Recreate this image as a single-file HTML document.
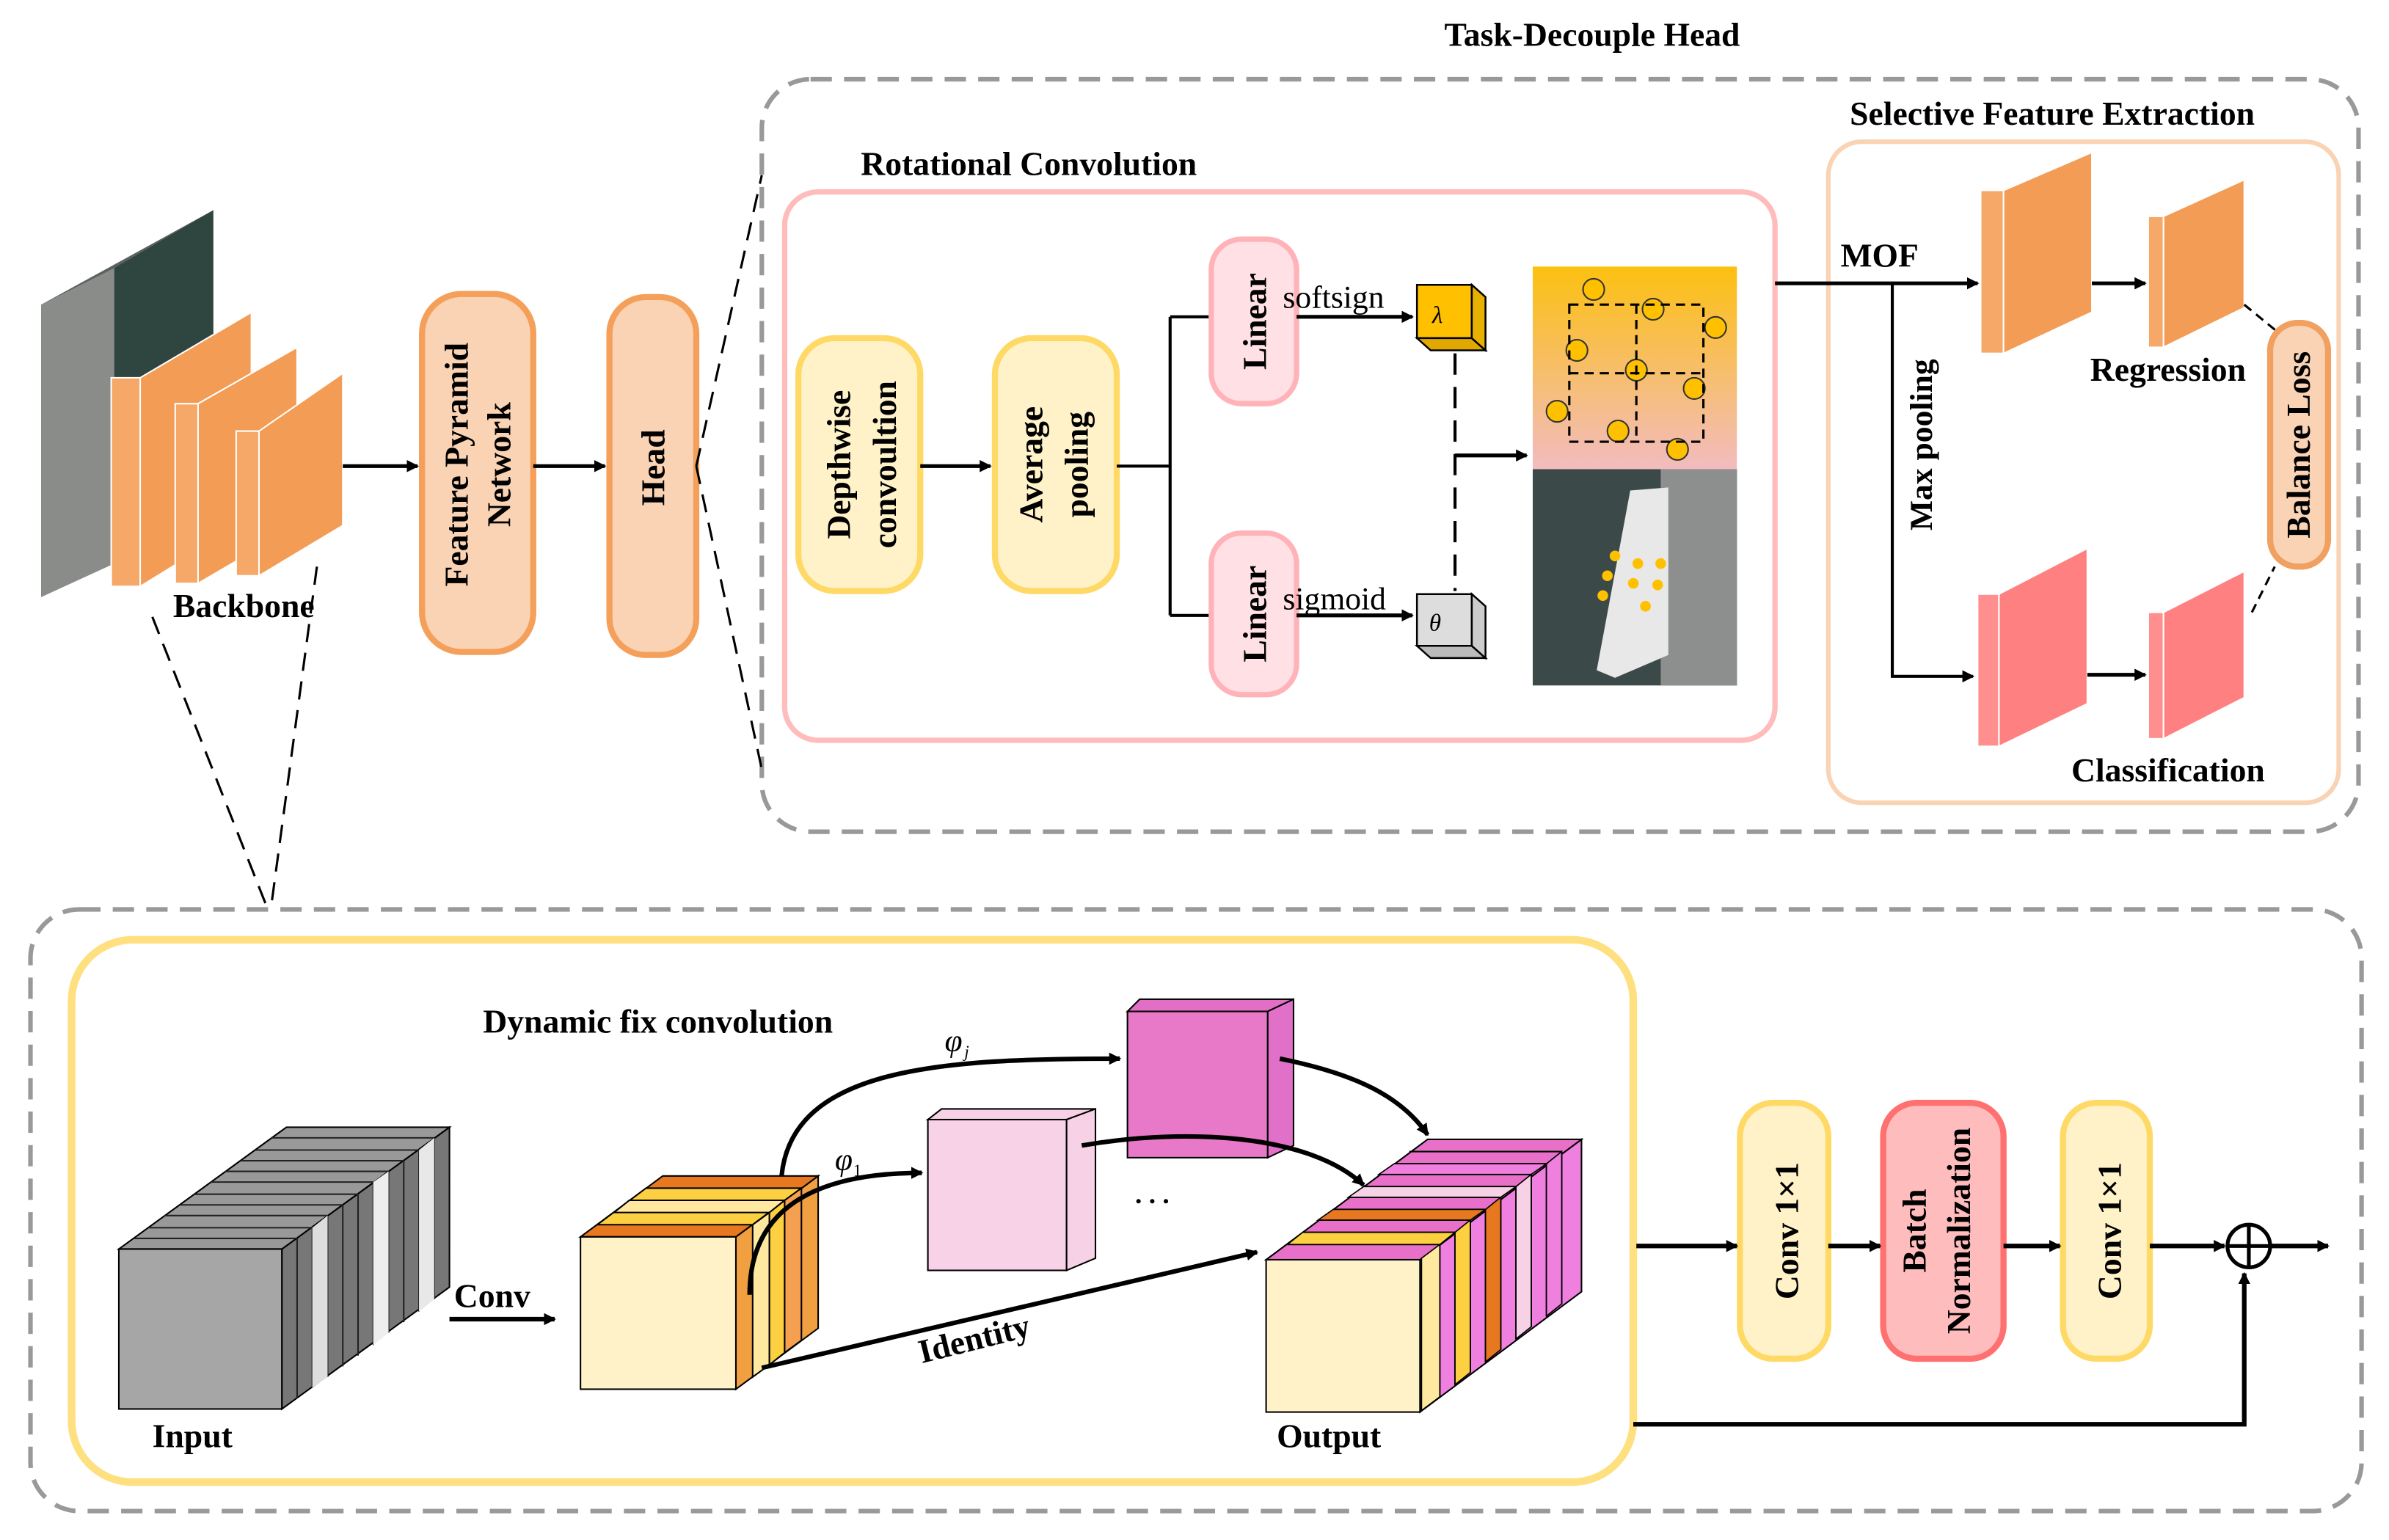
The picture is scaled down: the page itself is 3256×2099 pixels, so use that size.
<!DOCTYPE html>
<html><head><meta charset="utf-8"><style>html,body{margin:0;padding:0;background:#fff}svg{display:block}svg text{font-family:"Liberation Serif",serif;font-weight:bold}</style></head><body>
<svg width="3256" height="2099" viewBox="0 0 1568 1011" preserveAspectRatio="none" xmlns="http://www.w3.org/2000/svg">
<defs>
<marker id="ah" markerWidth="8" markerHeight="8" refX="7" refY="4" orient="auto" markerUnits="userSpaceOnUse"><path d="M0,0 L8,4 L0,8 Z" fill="#000"/></marker>
<linearGradient id="gg" x1="0" y1="0" x2="0" y2="1"><stop offset="0" stop-color="#fcc010"/><stop offset="1" stop-color="#f2bcc0"/></linearGradient>
</defs>
<text x="1045" y="30" font-size="22" text-anchor="middle">Task-Decouple Head</text>
<rect x="500" y="52" width="1048" height="494" rx="32" fill="none" stroke="#999" stroke-width="3" stroke-dasharray="14,8"/>
<text x="1347" y="82" font-size="22" text-anchor="middle">Selective Feature Extraction</text>
<rect x="1200" y="93" width="335" height="434" rx="22" fill="none" stroke="#f9d3b4" stroke-width="3"/>
<text x="565" y="115" font-size="22">Rotational Convolution</text>
<rect x="515" y="126" width="650" height="360" rx="22" fill="none" stroke="#ffbcbc" stroke-width="3.5"/>
<rect x="524" y="222" width="80" height="166" rx="24" fill="#fff2c9" stroke="#ffd966" stroke-width="4"/>
<text transform="translate(558,305) rotate(-90)" font-size="22" text-anchor="middle">Depthwise</text>
<text transform="translate(588,305) rotate(-90)" font-size="22" text-anchor="middle">convoultion</text>
<rect x="653" y="222" width="80" height="166" rx="24" fill="#fff2c9" stroke="#ffd966" stroke-width="4"/>
<text transform="translate(684,305) rotate(-90)" font-size="22" text-anchor="middle">Average</text>
<text transform="translate(714,305) rotate(-90)" font-size="22" text-anchor="middle">pooling</text>
<line x1="604" y1="306" x2="650" y2="306" stroke="#000" stroke-width="2.5" marker-end="url(#ah)"/>
<path d="M733,306 H768 M768,208 V404 M768,208 H795 M768,404 H795" stroke="#000" stroke-width="2" fill="none"/>
<rect x="795" y="157" width="56" height="108" rx="20" fill="#ffe0e4" stroke="#ffb3b8" stroke-width="3.5"/>
<text transform="translate(831,211) rotate(-90)" font-size="22" text-anchor="middle">Linear</text>
<rect x="795" y="350" width="56" height="106" rx="20" fill="#ffe0e4" stroke="#ffb3b8" stroke-width="3.5"/>
<text transform="translate(831,403) rotate(-90)" font-size="22" text-anchor="middle">Linear</text>
<text x="842" y="202" font-size="21" style="font-weight:normal">softsign</text>
<text x="842" y="400" font-size="21" style="font-weight:normal">sigmoid</text>
<line x1="851" y1="208" x2="927" y2="208" stroke="#000" stroke-width="2.5" marker-end="url(#ah)"/>
<line x1="851" y1="404" x2="927" y2="404" stroke="#000" stroke-width="2.5" marker-end="url(#ah)"/>
<g stroke="#000" stroke-width="1.2">
<polygon points="930,187 966,187 966,222 930,222" fill="#ffc000"/><polygon points="930,222 966,222 975,230 939,230" fill="#e0a800"/><polygon points="966,187 975,195 975,230 966,222" fill="#e8b000"/>
<polygon points="930,390 966,390 966,424 930,424" fill="#ddd"/><polygon points="930,424 966,424 975,432 939,432" fill="#bbb"/><polygon points="966,390 975,398 975,432 966,424" fill="#ccc"/>
</g>
<text x="940" y="212" font-size="16" style="font-weight:normal;font-style:italic">λ</text>
<text x="938" y="414" font-size="16" style="font-weight:normal;font-style:italic">θ</text>
<line x1="955" y1="232" x2="955" y2="388" stroke="#000" stroke-width="2" stroke-dasharray="14,8"/>
<line x1="955" y1="299" x2="1002" y2="299" stroke="#000" stroke-width="2.5" marker-end="url(#ah)"/>
<rect x="1006" y="175" width="134" height="133" fill="url(#gg)"/>
<rect x="1006" y="308" width="134" height="142" fill="#3b4a48"/>
<rect x="1090" y="308" width="50" height="142" fill="#8c8f8e"/>
<path d="M1070,322 L1095,320 L1095,430 L1060,445 L1048,440 Z" fill="#e8e8e8"/>
<g fill="#ffc000" stroke="#333"><circle cx="1046" cy="190" r="7"/><circle cx="1085" cy="203" r="7"/><circle cx="1126" cy="215" r="7"/><circle cx="1035" cy="230" r="7"/><circle cx="1074" cy="243" r="7"/><circle cx="1112" cy="255" r="7"/><circle cx="1022" cy="270" r="7"/><circle cx="1062" cy="283" r="7"/><circle cx="1101" cy="295" r="7"/></g>
<path d="M1030,200 H1118 V290 H1030 Z M1030,245 H1118 M1074,200 V290" fill="none" stroke="#000" stroke-dasharray="6,4" stroke-width="1.5"/>
<g fill="#ffc000"><circle cx="1060" cy="365" r="3.5"/><circle cx="1055" cy="378" r="3.5"/><circle cx="1052" cy="391" r="3.5"/><circle cx="1075" cy="370" r="3.5"/><circle cx="1072" cy="383" r="3.5"/><circle cx="1090" cy="370" r="3.5"/><circle cx="1088" cy="384" r="3.5"/><circle cx="1080" cy="398" r="3.5"/></g>
<line x1="1165" y1="186" x2="1298" y2="186" stroke="#000" stroke-width="2.5" marker-end="url(#ah)"/>
<text x="1208" y="175" font-size="22">MOF</text>
<path d="M1242,186 V444 H1295" fill="none" stroke="#000" stroke-width="2" marker-end="url(#ah)"/>
<text transform="translate(1268,292) rotate(-90)" font-size="21" text-anchor="middle">Max pooling</text>
<g stroke="#fff" stroke-width="1">
<polygon points="1300,125 1315,125 1315,232 1300,232" fill="#f5a868"/><polygon points="1315,125 1373,100 1373,205 1315,232" fill="#f39c55"/>
<polygon points="1410,142 1420,142 1420,228 1410,228" fill="#f5a868"/><polygon points="1420,142 1473,118 1473,202 1420,228" fill="#f39c55"/>
<polygon points="1298,390 1312,390 1312,490 1298,490" fill="#ff8f8f"/><polygon points="1312,390 1370,360 1370,462 1312,490" fill="#ff8080"/>
<polygon points="1410,402 1420,402 1420,485 1410,485" fill="#ff8f8f"/><polygon points="1420,402 1473,375 1473,458 1420,485" fill="#ff8080"/>
</g>
<line x1="1373" y1="186" x2="1408" y2="186" stroke="#000" stroke-width="2.5" marker-end="url(#ah)"/>
<line x1="1370" y1="443" x2="1408" y2="443" stroke="#000" stroke-width="2.5" marker-end="url(#ah)"/>
<text x="1423" y="250" font-size="22" text-anchor="middle">Regression</text>
<text x="1423" y="513" font-size="22" text-anchor="middle">Classification</text>
<rect x="1490" y="212" width="38" height="160" rx="18" fill="#f9d3b4" stroke="#f0a060" stroke-width="4"/>
<text transform="translate(1516,292) rotate(-90)" font-size="22" text-anchor="middle">Balance Loss</text>
<path d="M1473,200 L1495,218 M1478,402 L1493,372" stroke="#000" stroke-dasharray="6,4" stroke-width="1.5"/>
<polygon points="27,200 140,138 140,330 27,392" fill="#5a6260"/>
<polygon points="75,176 140,138 140,330 75,370" fill="#2f4540"/>
<polygon points="27,200 75,176 75,370 27,392" fill="#8a8c8a"/>
<g stroke="#fff" stroke-width="1">
<polygon points="73,248 92,248 92,385 73,385" fill="#f5a868"/><polygon points="92,248 165,205 165,340 92,385" fill="#f39c55"/>
<polygon points="115,265 130,265 130,383 115,383" fill="#f5a868"/><polygon points="130,265 195,228 195,345 130,383" fill="#f39c55"/>
<polygon points="155,283 170,283 170,378 155,378" fill="#f5a868"/><polygon points="170,283 225,245 225,345 170,378" fill="#f39c55"/>
</g>
<text x="160" y="405" font-size="22" text-anchor="middle">Backbone</text>
<line x1="225" y1="306" x2="274" y2="306" stroke="#000" stroke-width="2.5" marker-end="url(#ah)"/>
<rect x="277" y="193" width="73" height="235" rx="26" fill="#f9d3b4" stroke="#f4a05a" stroke-width="4"/>
<text transform="translate(307,305) rotate(-90)" font-size="22" text-anchor="middle">Feature Pyramid</text>
<text transform="translate(335,305) rotate(-90)" font-size="22" text-anchor="middle">Network</text>
<line x1="350" y1="306" x2="397" y2="306" stroke="#000" stroke-width="2.5" marker-end="url(#ah)"/>
<rect x="400" y="195" width="57" height="235" rx="24" fill="#f9d3b4" stroke="#f4a05a" stroke-width="4"/>
<text transform="translate(436,307) rotate(-90)" font-size="22" text-anchor="middle">Head</text>
<path d="M457,306 L500,115 M457,306 L500,505 M100,405 L175,595 M208,372 L178,595" stroke="#000" stroke-width="1.5" stroke-dasharray="12,7" fill="none"/>
<rect x="20" y="597" width="1530" height="395" rx="32" fill="none" stroke="#999" stroke-width="3" stroke-dasharray="14,8"/>
<rect x="47" y="617" width="1025" height="356" rx="40" fill="none" stroke="#ffe080" stroke-width="5"/>
<text x="317" y="678" font-size="22">Dynamic fix convolution</text>
<g stroke="#000" stroke-width="1">
<polygon points="185,820 295,740 295,845 185,925" fill="#777"/>
<polygon points="78,820 185,820 295,740 188,740" fill="#999"/>
<path d="M195,813 V918 M205,806 V911 M215,798 V904 M225,791 V897 M235,784 V890 M245,776 V883 M255,769 V875 M265,762 V868 M275,755 V861 M285,747 V853" stroke="#222"/>
<path d="M88,813 H195 M98,806 H205 M108,798 H215 M118,791 H225 M128,784 H235 M138,776 H245 M148,769 H255 M158,762 H265 M168,755 H275 M178,747 H285" stroke="#222"/>
<rect x="78" y="820" width="107" height="105" fill="#a6a6a6"/>
</g>
<polygon points="205,806 215,798 215,904 205,911" fill="#ddd"/><polygon points="245,776 255,769 255,875 245,883" fill="#eee"/><polygon points="275,755 285,747 285,853 275,861" fill="#e8e8e8"/>
<text x="100" y="950" font-size="22">Input</text>
<text x="298" y="858" font-size="22">Conv</text>
<line x1="295" y1="866" x2="364" y2="866" stroke="#000" stroke-width="3" marker-end="url(#ah)"/>
<g stroke="#000" stroke-width="1">
<polygon points="483,812 537,772 537,872 483,912" fill="#f0a040"/>
<polygon points="381,812 483,812 537,772 435,772" fill="#e87820"/>
<polygon points="392,804 494,804 526,780 424,780" fill="#fcd040"/>
<polygon points="403,796 505,796 515,788 413,788" fill="#ffe8a0"/>
<polygon points="494,804 505,796 505,896 494,904" fill="#ffe8a0"/>
<polygon points="505,796 515,788 515,888 505,896" fill="#fcd040"/>
<polygon points="515,788 526,780 526,880 515,888" fill="#f5a050"/>
<rect x="381" y="812" width="102" height="100" fill="#fff2c9"/>
</g>
<g stroke="#000" stroke-width="1">
<polygon points="609,735 700,735 719,728 618,728" fill="#f7d2e6"/>
<polygon points="700,735 719,728 719,826 700,834" fill="#f7d2e6"/>
<rect x="609" y="735" width="91" height="99" fill="#f8d2e6"/>
<polygon points="740,664 832,664 849,656 748,656" fill="#e26ec6"/>
<polygon points="832,664 849,656 849,752 832,760" fill="#e070c8"/>
<rect x="740" y="664" width="92" height="96" fill="#e878c8"/>
</g>
<text x="745" y="790" font-size="18">. . .</text>
<text x="620" y="690" font-size="21" style="font-weight:normal;font-style:italic">φ</text><text x="633" y="694" font-size="11" style="font-weight:normal;font-style:italic">j</text>
<text x="548" y="768" font-size="21" style="font-weight:normal;font-style:italic">φ</text><text x="560" y="772" font-size="11" style="font-weight:normal">1</text>
<g stroke="#000" stroke-width="1">
<polygon points="932,827 1038,748 1038,848 932,927" fill="#f080e0"/>
<polygon points="831,827 932,827 1038,748 937,748" fill="#e870c8"/>
<path d="M845,817 H945 M855,809 H955 M865,801 H965 M875,794 H975 M885,786 H985 M895,779 H995 M905,771 H1005 M915,764 H1015 M925,756 H1025 M945,817 V917 M955,809 V909 M965,801 V901 M975,794 V894 M985,786 V886 M995,779 V879 M1005,771 V871 M1015,764 V864 M1025,756 V856"/>
<rect x="831" y="827" width="101" height="100" fill="#fff2c9"/>
</g>
<polygon points="933,826 945,817 945,917 933,926" fill="#ffe8a0" stroke="#000" stroke-width="0.8"/>
<polygon points="955,809 965,801 965,901 955,909" fill="#fcd040" stroke="#000" stroke-width="0.8"/>
<polygon points="975,794 985,786 985,886 975,894" fill="#e87820" stroke="#000" stroke-width="0.8"/>
<polygon points="995,779 1005,771 1005,871 995,879" fill="#f7d2e6" stroke="#000" stroke-width="0.8"/>
<polygon points="1015,764 1025,756 1025,856 1015,864" fill="#f080e0" stroke="#000" stroke-width="0.8"/>
<polygon points="845,817 945,817 955,809 855,809" fill="#fcd040" stroke="#000" stroke-width="0.8"/>
<polygon points="865,801 965,801 975,794 875,794" fill="#e87820" stroke="#000" stroke-width="0.8"/>
<polygon points="885,786 985,786 995,779 895,779" fill="#f7d2e6" stroke="#000" stroke-width="0.8"/>
<polygon points="905,771 1005,771 1015,764 915,764" fill="#f080e0" stroke="#000" stroke-width="0.8"/>
<text x="838" y="950" font-size="22">Output</text>
<g fill="none" stroke="#000" stroke-width="3">
<path d="M513,772 C520,700 620,695 735,695" marker-end="url(#ah)"/>
<path d="M492,850 C492,790 540,770 605,770" marker-end="url(#ah)"/>
<path d="M840,695 C890,705 920,720 937,745" marker-end="url(#ah)"/>
<path d="M710,752 C780,740 860,745 895,778" marker-end="url(#ah)"/>
<path d="M500,898 L825,822" marker-end="url(#ah)"/>
</g>
<text transform="translate(605,895) rotate(-14)" font-size="22">Identity</text>
<rect x="1142" y="724" width="58" height="168" rx="22" fill="#fff2c9" stroke="#ffd966" stroke-width="4"/>
<text transform="translate(1180,808) rotate(-90)" font-size="22" text-anchor="middle">Conv  1×1</text>
<rect x="1236" y="724" width="79" height="168" rx="22" fill="#ffbcbc" stroke="#ff7070" stroke-width="4"/>
<text transform="translate(1264,808) rotate(-90)" font-size="22" text-anchor="middle">Batch</text>
<text transform="translate(1293,808) rotate(-90)" font-size="22" text-anchor="middle">Normalization</text>
<rect x="1354" y="724" width="57" height="168" rx="22" fill="#fff2c9" stroke="#ffd966" stroke-width="4"/>
<text transform="translate(1392,808) rotate(-90)" font-size="22" text-anchor="middle">Conv  1×1</text>
<g stroke="#000" stroke-width="3">
<line x1="1074" y1="818" x2="1140" y2="818" marker-end="url(#ah)"/>
<line x1="1200" y1="818" x2="1234" y2="818" marker-end="url(#ah)"/>
<line x1="1315" y1="818" x2="1352" y2="818" marker-end="url(#ah)"/>
<line x1="1411" y1="818" x2="1460" y2="818" marker-end="url(#ah)"/>
<line x1="1491" y1="818" x2="1528" y2="818" marker-end="url(#ah)"/>
<path d="M1072,935 H1473 V836" fill="none" marker-end="url(#ah)"/>
</g>
<circle cx="1476" cy="818" r="14" fill="#fff" stroke="#000" stroke-width="2.5"/>
<path d="M1462,818 H1490 M1476,804 V832" stroke="#000" stroke-width="2.5"/>
</svg>
</body></html>
